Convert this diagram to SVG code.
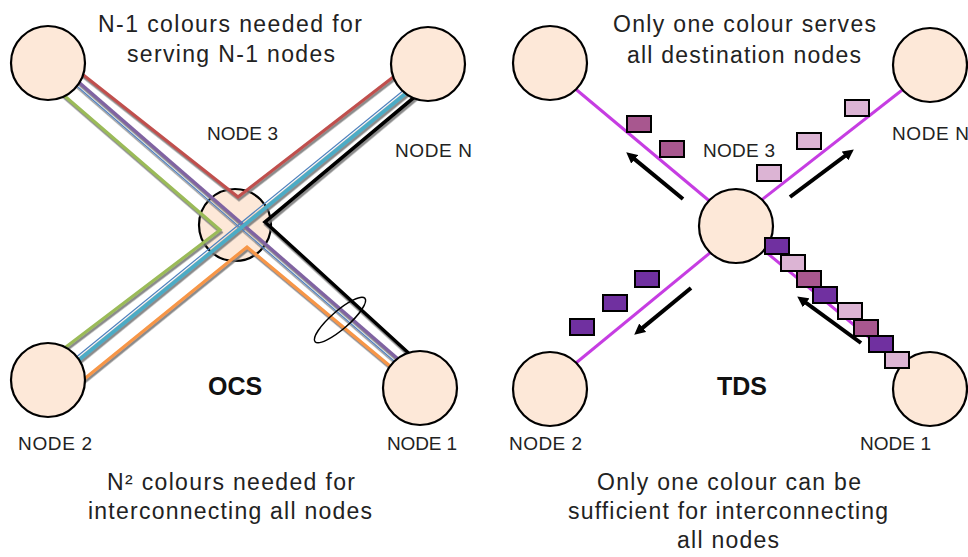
<svg xmlns="http://www.w3.org/2000/svg" width="968" height="557" viewBox="0 0 968 557">
  <style>
    .caption { font-family: "Liberation Sans", Arial, sans-serif; font-size: 23px; fill: #222; }
    .label { font-family: "Liberation Sans", Arial, sans-serif; font-size: 19px; fill: #222; }
    .title { font-family: "Liberation Sans", Arial, sans-serif; font-size: 25px; font-weight: bold; fill: #111; }
    .node { fill: #fde8d8; stroke: #000; stroke-width: 2.2; }
    .wave { fill: none; stroke-width: 3.2; stroke-linejoin: miter; }
    .thin { fill: none; stroke: #4f81bd; stroke-width: 1.2; }
    .red { stroke: #c0504d; }
    .purple { stroke: #8064a2; }
    .green { stroke: #9bbb59; }
    .orange { stroke: #f79646; }
    .cyan { stroke: #4bacc6; stroke-width: 3.6; }
    .black { stroke: #000; stroke-width: 3.6; }
    .fibre { fill: none; stroke: #c63de2; stroke-width: 3; }
    .pkt { stroke: #000; stroke-width: 2; }
    .dark { fill: #7030a0; }
    .mauve { fill: #a8578f; }
    .pink { fill: #dcb4d4; }
    .dir { fill: none; stroke: #000; stroke-width: 4; marker-end: url(#arrowhead); }
  </style>
  <defs>
    <marker id="arrowhead" markerWidth="11" markerHeight="11" refX="3" refY="5.5" orient="auto" markerUnits="userSpaceOnUse">
      <path d="M0,0 L11,5.5 L0,11 z" fill="#000"/>
    </marker>
    <filter id="shade" x="-5%" y="-5%" width="110%" height="110%">
      <feDropShadow dx="1" dy="2.5" stdDeviation="0.7" flood-color="#777" flood-opacity="0.85"/>
    </filter>
  </defs>

  <rect width="968" height="557" fill="#fff"/>

  <!-- ===== OCS panel ===== -->
  <g id="ocs-hub">
    <circle class="node" cx="235" cy="225" r="36"/>
  </g>

  <g id="ocs-connectors">
    <g filter="url(#shade)">
      <polyline class="wave red" points="77,70 238,197 401,71"/>
      <polyline class="wave green" points="60,92 220,230 58,353"/>
      <polyline class="wave orange" points="78,384 247,247 396,371"/>
      <polyline class="wave black" points="423,90 265,222 415,359"/>
      <line class="wave purple" x1="74" y1="78" x2="405" y2="365"/>
      <line class="thin" x1="71" y1="81" x2="402" y2="368"/>
      <line class="wave cyan" x1="74" y1="364" x2="415" y2="86"/>
      <line class="thin" x1="71.5" y1="361" x2="412.5" y2="83"/>
    </g>
    <!-- loop marking the fibre bundle -->
    <ellipse cx="340" cy="320" rx="33" ry="9" transform="rotate(-41 340 320)" fill="none" stroke="#000" stroke-width="1.5"/>
  </g>

  <g id="ocs-node-top-left"><circle class="node" cx="48" cy="63" r="37"/></g>
  <g id="ocs-node-n"><circle class="node" cx="428" cy="64" r="37"/>
    <text class="label" x="395" y="157" textLength="77" lengthAdjust="spacing">NODE N</text></g>
  <g id="ocs-node-2"><circle class="node" cx="48" cy="380" r="37"/>
    <text class="label" x="18" y="450" textLength="74" lengthAdjust="spacing">NODE 2</text></g>
  <g id="ocs-node-1"><circle class="node" cx="420" cy="388" r="37"/>
    <text class="label" x="387" y="450" textLength="70" lengthAdjust="spacing">NODE 1</text></g>
  <text class="label" x="207" y="140" textLength="71" lengthAdjust="spacing">NODE 3</text>

  <text class="title" x="208" y="395">OCS</text>
  <text class="caption" x="98" y="32" textLength="264" lengthAdjust="spacing">N-1 colours needed for</text>
  <text class="caption" x="127" y="62" textLength="208" lengthAdjust="spacing">serving N-1 nodes</text>
  <text class="caption" x="107" y="490" textLength="248" lengthAdjust="spacing">N² colours needed for</text>
  <text class="caption" x="88" y="519" textLength="284" lengthAdjust="spacing">interconnecting all nodes</text>

  <!-- ===== TDS panel ===== -->
  <g id="tds-connectors">
    <line class="fibre" x1="560" y1="76" x2="725" y2="214"/>
    <line class="fibre" x1="915" y1="80" x2="745" y2="213"/>
    <line class="fibre" x1="565" y1="372" x2="722" y2="243"/>
    <line class="fibre" x1="755" y1="243" x2="906" y2="368"/>
  </g>

  <g id="tds-hub"><circle class="node" cx="736" cy="226" r="37"/>
    <text class="label" x="703" y="157" textLength="72" lengthAdjust="spacing">NODE 3</text></g>
  <g id="tds-node-top-left"><circle class="node" cx="550" cy="63" r="37"/></g>
  <g id="tds-node-n"><circle class="node" cx="930" cy="65" r="37"/>
    <text class="label" x="892" y="140" textLength="77" lengthAdjust="spacing">NODE N</text></g>
  <g id="tds-node-2"><circle class="node" cx="550" cy="389" r="37"/>
    <text class="label" x="509" y="450" textLength="73" lengthAdjust="spacing">NODE 2</text></g>
  <g id="tds-node-1"><circle class="node" cx="930" cy="389" r="37"/>
    <text class="label" x="860" y="450" textLength="71" lengthAdjust="spacing">NODE 1</text></g>

  <g id="tds-packets">
    <rect class="pkt mauve" x="627" y="116" width="24" height="16"/>
    <rect class="pkt mauve" x="660" y="141" width="24" height="16"/>
    <rect class="pkt pink" x="845" y="100" width="24" height="16"/>
    <rect class="pkt pink" x="797" y="133" width="24" height="16"/>
    <rect class="pkt pink" x="757" y="165" width="24" height="16"/>
    <rect class="pkt dark" x="635" y="271" width="24" height="16"/>
    <rect class="pkt dark" x="603" y="295" width="24" height="16"/>
    <rect class="pkt dark" x="570" y="319" width="24" height="16"/>
    <rect class="pkt dark" x="765" y="238" width="24" height="16"/>
    <rect class="pkt pink" x="781" y="255" width="24" height="16"/>
    <rect class="pkt mauve" x="797" y="271" width="24" height="16"/>
    <rect class="pkt dark" x="813" y="287" width="24" height="16"/>
    <rect class="pkt pink" x="838" y="303" width="24" height="16"/>
    <rect class="pkt mauve" x="854" y="320" width="24" height="16"/>
    <rect class="pkt dark" x="869" y="336" width="24" height="16"/>
    <rect class="pkt pink" x="885" y="352" width="24" height="16"/>
  </g>

  <g id="tds-directions">
    <line class="dir" x1="683" y1="199" x2="632.4" y2="157.4"/>
    <line class="dir" x1="790" y1="197" x2="847.4" y2="154.2"/>
    <line class="dir" x1="691" y1="288" x2="640.4" y2="329.6"/>
    <line class="dir" x1="861" y1="343" x2="803.7" y2="301.1"/>
  </g>

  <text class="title" x="717" y="395">TDS</text>
  <text class="caption" x="613" y="32" textLength="263" lengthAdjust="spacing">Only one colour serves</text>
  <text class="caption" x="627" y="63" textLength="234" lengthAdjust="spacing">all destination nodes</text>
  <text class="caption" x="597" y="490" textLength="264" lengthAdjust="spacing">Only one colour can be</text>
  <text class="caption" x="568" y="519" textLength="320" lengthAdjust="spacing">sufficient for interconnecting</text>
  <text class="caption" x="677" y="548" textLength="102" lengthAdjust="spacing">all nodes</text>
</svg>
